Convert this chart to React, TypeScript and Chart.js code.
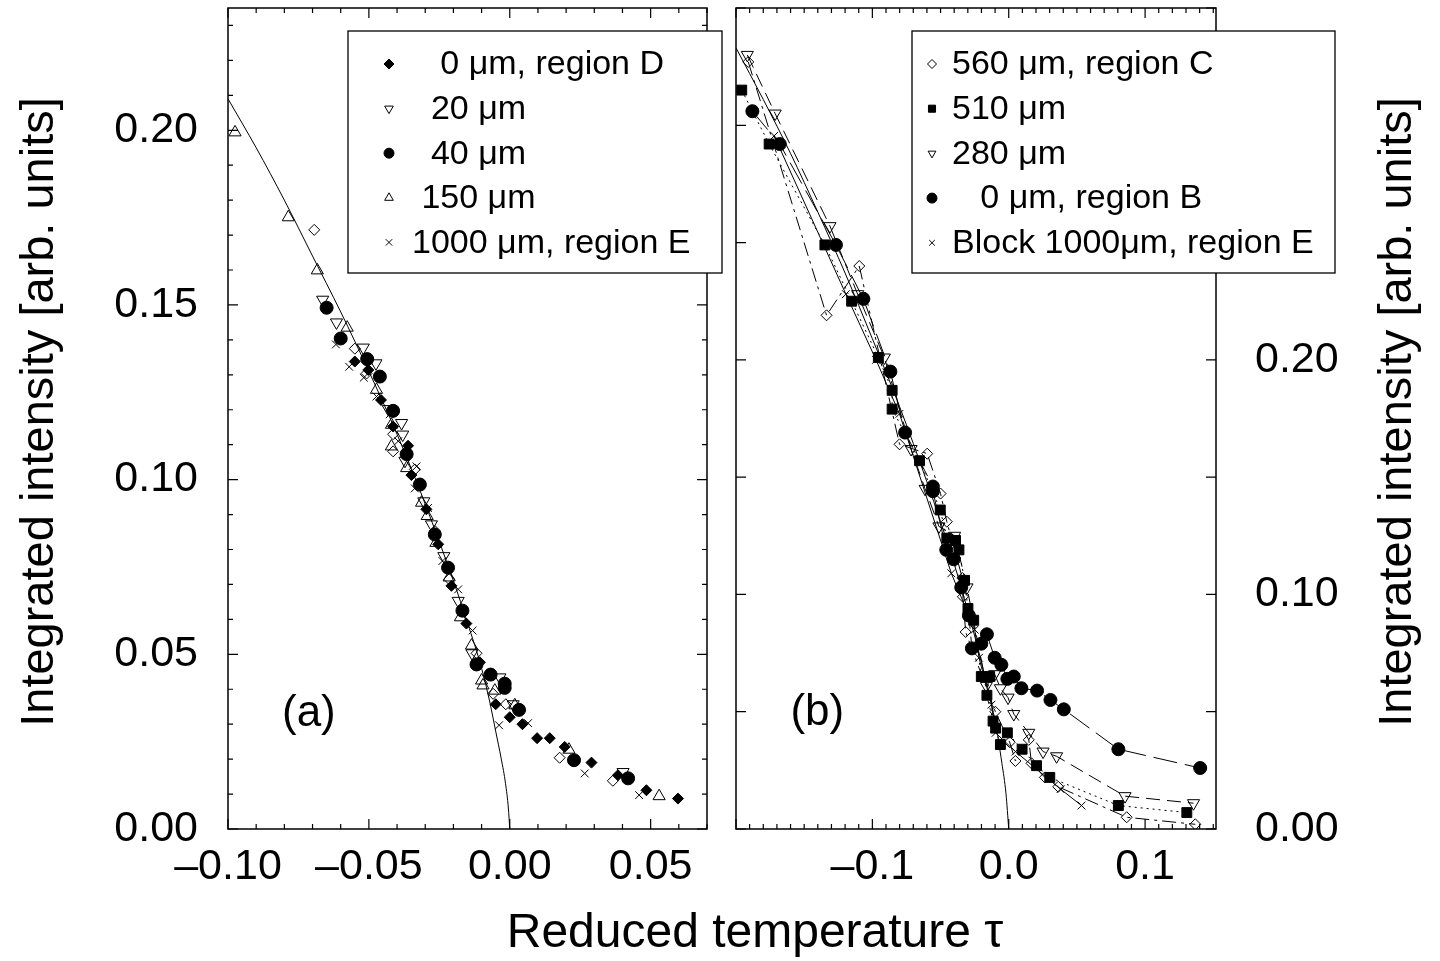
import React, { useEffect, useRef } from 'react';
import { Chart, registerables } from 'chart.js';
Chart.register(...registerables);

const FONT = "'Liberation Sans', Arial, Helvetica, sans-serif";
const Y_TITLE = 'Integrated intensity [arb. units]';
const X_TITLE = 'Reduced temperature \u03c4';

// ---------------- Panel (a) ----------------
const aD0Tau = [-0.055, -0.0502, -0.0457, -0.0414, -0.0361, -0.0349, -0.0296, -0.0254, -0.0207, -0.0154, -0.0106, -0.005, 0.0, 0.0045, 0.0097, 0.0142, 0.0195, 0.029, 0.0384, 0.0485, 0.0597];
const aD0Int = [0.1338, 0.1314, 0.1228, 0.1152, 0.1097, 0.1013, 0.0915, 0.0815, 0.0696, 0.0588, 0.0477, 0.0357, 0.032, 0.030, 0.026, 0.026, 0.0235, 0.019, 0.0154, 0.0111, 0.0087];

const a20Tau = [-0.0664, -0.0615, -0.052, -0.0475, -0.0431, -0.0384, -0.038, -0.0372, -0.0305, -0.0278, -0.0234, -0.0183, -0.0134, -0.0035, 0.0012, 0.0402];
const a20Int = [0.1515, 0.145, 0.1378, 0.1333, 0.1202, 0.1162, 0.1129, 0.1054, 0.0938, 0.0872, 0.0781, 0.0653, 0.0503, 0.0434, 0.0357, 0.0163];

const a40Tau = [-0.065, -0.060, -0.0506, -0.0461, -0.0414, -0.0366, -0.0319, -0.0266, -0.0219, -0.0168, -0.0118, -0.0068, -0.0018, -0.0018, 0.0033, 0.0228, 0.042];
const a40Int = [0.1492, 0.1404, 0.1345, 0.1295, 0.1197, 0.1073, 0.0986, 0.0843, 0.0748, 0.0625, 0.0471, 0.0442, 0.0416, 0.0404, 0.0341, 0.0197, 0.0145];

const a150Tau = [-0.0975, -0.0786, -0.0683, -0.0577, -0.0473, -0.042, -0.042, -0.0366, -0.0313, -0.0293, -0.0262, -0.0215, -0.0175, -0.0136, -0.010, -0.0095, -0.0053, 0.0018, 0.021, 0.053];
const a150Int = [0.1994, 0.1751, 0.1599, 0.1435, 0.1257, 0.1157, 0.1095, 0.1033, 0.0934, 0.0896, 0.0819, 0.072, 0.0606, 0.0525, 0.0425, 0.0411, 0.0396, 0.0354, 0.0227, 0.0094];

const a1000Tau = [-0.0617, -0.057, -0.0518, -0.0473, -0.0426, -0.0396, -0.0337, -0.0331, -0.029, -0.0239, -0.0183, -0.0132, -0.0038, 0.0065, 0.0266, 0.0459];
const a1000Int = [0.1387, 0.1323, 0.1292, 0.1238, 0.1187, 0.111, 0.0975, 0.1038, 0.0919, 0.0767, 0.0686, 0.0568, 0.0297, 0.0303, 0.0159, 0.0097];

const aOpenTau = [-0.0694, -0.055, -0.0508, -0.0414, -0.0414, -0.0337, -0.0266, -0.0215, -0.0118, -0.0059, -0.0014, 0.0177, 0.0366];
const aOpenInt = [0.1715, 0.1375, 0.1304, 0.113, 0.1081, 0.1029, 0.0853, 0.0715, 0.0503, 0.0387, 0.0357, 0.0204, 0.0138];

const fitTauA = [-0.100, -0.090, -0.080, -0.070, -0.060, -0.050, -0.040, -0.030, -0.020, -0.015, -0.010, -0.007, -0.005, -0.003, -0.0015, -0.0005, 0.0];
const fitIntA = [0.209, 0.195, 0.180, 0.164, 0.148, 0.131, 0.113, 0.093, 0.071, 0.059, 0.046, 0.036, 0.028, 0.020, 0.013, 0.006, 0.0];

const xTicksA = [-0.1, -0.05, 0, 0.05];
const yTicksA = [0, 0.05, 0.1, 0.15, 0.2];
const legendA = ['   0 \u03bcm, region D', '  20 \u03bcm', '  40 \u03bcm', ' 150 \u03bcm', '1000 \u03bcm, region E'];

// ---------------- Panel (b) ----------------
const b560Tau = [-0.191, -0.1336, -0.1096, -0.0801, -0.0598, -0.050, -0.0454, -0.034, -0.0336, -0.0316, -0.0098, 0.0007, 0.0049, 0.0147, 0.0167, 0.0265, 0.0363, 0.0865, 0.1368];
const b560Int = [0.327, 0.219, 0.240, 0.164, 0.160, 0.143, 0.131, 0.107, 0.099, 0.084, 0.050, 0.037, 0.029, 0.038, 0.028, 0.022, 0.018, 0.005, 0.002];

const b510Tau = [-0.1958, -0.1757, -0.1348, -0.1152, -0.0956, -0.0855, -0.0855, -0.0654, -0.0502, -0.0454, -0.039, -0.0365, -0.0324, -0.0299, -0.0257, -0.0201, -0.014, -0.016, -0.0115, -0.0096, -0.0061, -0.001, 0.0098, 0.0204, 0.0301, 0.0804, 0.1306];
const b510Int = [0.315, 0.292, 0.249, 0.225, 0.201, 0.187, 0.179, 0.157, 0.136, 0.124, 0.123, 0.119, 0.106, 0.094, 0.089, 0.065, 0.065, 0.057, 0.046, 0.043, 0.036, 0.041, 0.034, 0.027, 0.022, 0.010, 0.007];

const b280Tau = [-0.1917, -0.1713, -0.1311, -0.1108, -0.0912, -0.0716, -0.0613, -0.0512, -0.0397, -0.0306, -0.0164, -0.0103, -0.0061, -0.0005, 0.0037, 0.0147, 0.0252, 0.0351, 0.0853, 0.1355];
const b280Int = [0.330, 0.305, 0.257, 0.228, 0.201, 0.162, 0.145, 0.129, 0.125, 0.103, 0.061, 0.066, 0.060, 0.056, 0.049, 0.041, 0.033, 0.031, 0.014, 0.011];

const b0Tau = [-0.188, -0.1679, -0.1267, -0.1066, -0.0868, -0.076, -0.0556, -0.0556, -0.0458, -0.0404, -0.0348, -0.0292, -0.027, -0.0201, -0.016, -0.0103, -0.0054, -0.001, 0.0037, 0.0093, 0.0208, 0.0306, 0.0404, 0.0804, 0.1404];
const b0Int = [0.306, 0.292, 0.249, 0.226, 0.195, 0.169, 0.146, 0.144, 0.119, 0.115, 0.103, 0.091, 0.077, 0.079, 0.083, 0.073, 0.070, 0.064, 0.065, 0.060, 0.059, 0.055, 0.051, 0.034, 0.026];

const bBlockTau = [-0.172, -0.1194, -0.0973, -0.0801, -0.0421, -0.025, -0.0218, -0.0127, -0.0096, 0.005, 0.038, 0.0534];
const bBlockInt = [0.2955, 0.228, 0.200, 0.177, 0.109, 0.085, 0.073, 0.053, 0.041, 0.033, 0.017, 0.010];

const fitTauB = [-0.200, -0.180, -0.160, -0.140, -0.120, -0.100, -0.080, -0.060, -0.040, -0.030, -0.020, -0.010, -0.005, -0.002, 0.0];
const fitIntB = [0.333, 0.311, 0.288, 0.263, 0.237, 0.209, 0.180, 0.148, 0.113, 0.093, 0.071, 0.046, 0.028, 0.015, 0.0];

const xTicksB = [-0.1, 0, 0.1];
const yTicksB = [0, 0.1, 0.2];
const legendB = ['560 \u03bcm, region C', '510 \u03bcm', '280 \u03bcm', '   0 \u03bcm, region B', 'Block 1000\u03bcm, region E'];

// ---------------- helpers ----------------
const pts = (xs: number[], ys: number[]) => xs.map((x, i) => ({ x, y: ys[i] }));
const fmt = (d: number) => (v: any) => {
  const n = Number(v);
  const s = Math.abs(n).toFixed(d);
  return n < -1e-9 ? '\u2013' + s : s;
};

function drawMarker(ctx: CanvasRenderingContext2D, style: string, x: number, y: number, r: number, filled: boolean) {
  ctx.beginPath();
  if (style === 'circle') {
    ctx.arc(x, y, r, 0, Math.PI * 2);
  } else if (style === 'diamond') {
    ctx.moveTo(x - r, y); ctx.lineTo(x, y - r); ctx.lineTo(x + r, y); ctx.lineTo(x, y + r); ctx.closePath();
  } else if (style === 'square') {
    const s = r * Math.SQRT1_2;
    ctx.rect(x - s, y - s, 2 * s, 2 * s);
  } else if (style === 'triUp') {
    ctx.moveTo(x, y - r); ctx.lineTo(x + r * 0.866, y + r * 0.5); ctx.lineTo(x - r * 0.866, y + r * 0.5); ctx.closePath();
  } else if (style === 'triDown') {
    ctx.moveTo(x, y + r); ctx.lineTo(x + r * 0.866, y - r * 0.5); ctx.lineTo(x - r * 0.866, y - r * 0.5); ctx.closePath();
  } else if (style === 'cross') {
    const s = r * Math.SQRT1_2;
    ctx.moveTo(x - s, y - s); ctx.lineTo(x + s, y + s);
    ctx.moveTo(x + s, y - s); ctx.lineTo(x - s, y + s);
  }
  if (filled) ctx.fill();
  ctx.stroke();
}

type LegendRow = { style: string; r: number; filled: boolean };
type FrameOpts = {
  xk0: number; xk1: number; xStep: number; xMajor: number;
  yk0: number; yk1: number; yStep: number; yMajor: number;
  panelText: string; panelX: number; panelY: number;
  box: [number, number, number, number];
  markX: number; textX: number; row0: number; rowStep: number;
  labels: string[]; rows: LegendRow[];
  titleX: number; titleY: number;
};

function framePlugin(o: FrameOpts) {
  return {
    id: 'frame',
    afterDraw(chart: any) {
      const ctx: CanvasRenderingContext2D = chart.ctx;
      const a = chart.chartArea;
      const xs = chart.scales.x, ys = chart.scales.y;
      ctx.save();
      ctx.strokeStyle = '#000';
      ctx.fillStyle = '#000';
      ctx.lineWidth = 1.2;
      ctx.beginPath();
      for (let k = o.xk0; k <= o.xk1; k++) {
        const px = xs.getPixelForValue(k * o.xStep);
        const L = k % o.xMajor === 0 ? 10 : 5;
        ctx.moveTo(px, a.bottom); ctx.lineTo(px, a.bottom - L);
        ctx.moveTo(px, a.top); ctx.lineTo(px, a.top + L);
      }
      for (let k = o.yk0; k <= o.yk1; k++) {
        const py = ys.getPixelForValue(k * o.yStep);
        const L = k % o.yMajor === 0 ? 10 : 5;
        ctx.moveTo(a.left, py); ctx.lineTo(a.left + L, py);
        ctx.moveTo(a.right, py); ctx.lineTo(a.right - L, py);
      }
      ctx.stroke();
      ctx.lineWidth = 1.5;
      ctx.strokeRect(a.left, a.top, a.right - a.left, a.bottom - a.top);

      // panel label
      ctx.font = `44px ${FONT}`;
      ctx.textAlign = 'center';
      ctx.textBaseline = 'middle';
      ctx.fillText(o.panelText, xs.getPixelForValue(o.panelX), ys.getPixelForValue(o.panelY));

      // legend
      const [bx0, by0, bx1, by1] = o.box;
      ctx.fillStyle = '#fff';
      ctx.fillRect(bx0, by0, bx1 - bx0, by1 - by0);
      ctx.lineWidth = 1.3;
      ctx.strokeRect(bx0, by0, bx1 - bx0, by1 - by0);
      ctx.font = `34px ${FONT}`;
      ctx.textAlign = 'left';
      ctx.textBaseline = 'middle';
      o.labels.forEach((lab, i) => {
        const y = o.row0 + i * o.rowStep;
        const row = o.rows[i];
        ctx.fillStyle = '#000';
        ctx.lineWidth = 1;
        drawMarker(ctx, row.style, o.markX, y, row.r, row.filled);
        ctx.fillStyle = '#000';
        ctx.fillText(lab, o.textX, y + 1);
      });

      // y title
      ctx.save();
      ctx.translate(o.titleX, o.titleY);
      ctx.rotate(-Math.PI / 2);
      ctx.font = `47px ${FONT}`;
      ctx.textAlign = 'center';
      ctx.textBaseline = 'middle';
      ctx.fillStyle = '#000';
      ctx.fillText(Y_TITLE, 0, 0);
      ctx.restore();
      ctx.restore();
    },
  };
}

const markerDs = (label: string, xs: number[], ys: number[], style: string, r: number, filled: boolean, rot = 0) => ({
  label,
  data: pts(xs, ys),
  pointStyle: style,
  pointRotation: rot,
  pointRadius: r,
  pointBorderWidth: 1,
  pointBorderColor: '#000',
  pointBackgroundColor: filled ? '#000' : 'rgba(0,0,0,0)',
  borderColor: '#000',
  backgroundColor: filled ? '#000' : 'rgba(0,0,0,0)',
  showLine: false,
});

const lineDs = (label: string, xs: number[], ys: number[], style: string, r: number, filled: boolean, dash: number[], rot = 0) => ({
  ...markerDs(label, xs, ys, style, r, filled, rot),
  showLine: true,
  borderWidth: 1,
  borderDash: dash,
  tension: 0,
});

const fitDs = (xs: number[], ys: number[]) => ({
  label: 'fit',
  data: pts(xs, ys),
  showLine: true,
  borderColor: '#000',
  borderWidth: 1,
  pointRadius: 0,
  cubicInterpolationMode: 'monotone',
});

const tickFont = { family: FONT, size: 43 };

const fitX = (s: any) => { s.height = 132; s.paddingLeft = 0; s.paddingRight = 0; s.paddingTop = 0; s.paddingBottom = 0; };
const fitY = (w: number) => (s: any) => { s.width = w; s.paddingLeft = 0; s.paddingRight = 0; s.paddingTop = 0; s.paddingBottom = 0; };

function buildA(canvas: HTMLCanvasElement) {
  return new Chart(canvas, {
    type: 'scatter',
    data: {
      datasets: [
        fitDs(fitTauA, fitIntA),
        markerDs('open diamond', aOpenTau, aOpenInt, 'rectRot', 5.5, false),
        markerDs(legendA[4], a1000Tau, a1000Int, 'crossRot', 5.5, false),
        markerDs(legendA[3], a150Tau, a150Int, 'triangle', 7, false),
        markerDs(legendA[2], a40Tau, a40Int, 'circle', 6.5, true),
        markerDs(legendA[1], a20Tau, a20Int, 'triangle', 7, false, 180),
        markerDs(legendA[0], aD0Tau, aD0Int, 'rectRot', 5.5, true),
      ] as any,
    },
    options: {
      responsive: false,
      animation: false,
      devicePixelRatio: 1,
      events: [],
      layout: { padding: { left: 0, top: 5, right: 21, bottom: 0 } },
      plugins: { legend: { display: false }, tooltip: { enabled: false } },
      scales: {
        x: {
          type: 'linear', min: -0.1, max: 0.07,
          grid: { display: false, drawTicks: false },
          border: { display: false },
          ticks: { font: tickFont, color: '#000', padding: 12, maxRotation: 0, autoSkip: false, includeBounds: false, callback: fmt(2) },
          afterBuildTicks: (s: any) => { s.ticks = xTicksA.map((v) => ({ value: v })); },
          afterFit: fitX,
        },
        y: {
          type: 'linear', min: 0, max: 0.235,
          grid: { display: false, drawTicks: false },
          border: { display: false },
          ticks: { font: tickFont, color: '#000', padding: 30, autoSkip: false, includeBounds: false, callback: fmt(2) },
          afterBuildTicks: (s: any) => { s.ticks = yTicksA.map((v) => ({ value: v })); },
          afterFit: fitY(228),
        },
      },
    } as any,
    plugins: [
      framePlugin({
        xk0: -10, xk1: 7, xStep: 0.01, xMajor: 5,
        yk0: 0, yk1: 23, yStep: 0.01, yMajor: 5,
        panelText: '(a)', panelX: -0.0713, panelY: 0.0331,
        box: [348, 31, 722, 273], markX: 389, textX: 412, row0: 64, rowStep: 44.6,
        labels: legendA,
        rows: [
          { style: 'diamond', r: 5, filled: true },
          { style: 'triDown', r: 5, filled: false },
          { style: 'circle', r: 5, filled: true },
          { style: 'triUp', r: 5, filled: false },
          { style: 'cross', r: 4.5, filled: false },
        ],
        titleX: 40, titleY: 412,
      }),
    ] as any,
  });
}

function buildB(canvas: HTMLCanvasElement) {
  return new Chart(canvas, {
    type: 'scatter',
    data: {
      datasets: [
        fitDs(fitTauB, fitIntB),
        lineDs(legendB[4], bBlockTau, bBlockInt, 'crossRot', 5.5, false, []),
        lineDs(legendB[3], b0Tau, b0Int, 'circle', 6.5, true, [24, 8]),
        lineDs(legendB[2], b280Tau, b280Int, 'triangle', 7, false, [14, 7], 180),
        lineDs(legendB[1], b510Tau, b510Int, 'rect', 7, true, [2, 4]),
        lineDs(legendB[0], b560Tau, b560Int, 'rectRot', 5.5, false, [14, 5, 3, 5]),
      ] as any,
    },
    options: {
      responsive: false,
      animation: false,
      devicePixelRatio: 1,
      events: [],
      layout: { padding: { left: 8, top: 5, right: 0, bottom: 0 } },
      plugins: { legend: { display: false }, tooltip: { enabled: false } },
      scales: {
        x: {
          type: 'linear', min: -0.2, max: 0.152,
          grid: { display: false, drawTicks: false },
          border: { display: false },
          ticks: { font: tickFont, color: '#000', padding: 12, maxRotation: 0, autoSkip: false, includeBounds: false, callback: fmt(1) },
          afterBuildTicks: (s: any) => { s.ticks = xTicksB.map((v) => ({ value: v })); },
          afterFit: fitX,
        },
        y: {
          type: 'linear', position: 'right', min: 0, max: 0.35,
          grid: { display: false, drawTicks: false },
          border: { display: false },
          ticks: { font: tickFont, color: '#000', padding: 39, autoSkip: false, includeBounds: false, callback: fmt(2) },
          afterBuildTicks: (s: any) => { s.ticks = yTicksB.map((v) => ({ value: v })); },
          afterFit: fitY(224),
        },
      },
    } as any,
    plugins: [
      framePlugin({
        xk0: -20, xk1: 15, xStep: 0.01, xMajor: 10,
        yk0: 0, yk1: 7, yStep: 0.05, yMajor: 1,
        panelText: '(b)', panelX: -0.1404, panelY: 0.0493,
        box: [184, 31, 607, 273], markX: 204, textX: 224, row0: 64, rowStep: 44.7,
        labels: legendB,
        rows: [
          { style: 'diamond', r: 4.5, filled: false },
          { style: 'square', r: 5, filled: true },
          { style: 'triDown', r: 4.5, filled: false },
          { style: 'circle', r: 5, filled: true },
          { style: 'cross', r: 4, filled: false },
        ],
        titleX: 670, titleY: 412,
      }),
    ] as any,
  });
}

export default function App() {
  const refA = useRef<HTMLCanvasElement>(null);
  const refB = useRef<HTMLCanvasElement>(null);
  useEffect(() => {
    const ca = buildA(refA.current as HTMLCanvasElement);
    const cb = buildB(refB.current as HTMLCanvasElement);
    return () => { ca.destroy(); cb.destroy(); };
  }, []);
  return (
    <div style={{ position: 'absolute', left: 0, top: 0, width: 1440, height: 961, background: '#fff', overflow: 'hidden' }}>
      <canvas ref={refA} width={728} height={961} style={{ position: 'absolute', left: 0, top: 0 }} />
      <canvas ref={refB} width={712} height={961} style={{ position: 'absolute', left: 728, top: 0 }} />
      <div
        style={{
          position: 'absolute', left: 755, top: 907, transform: 'translateX(-50%)',
          font: `48px ${FONT}`, lineHeight: '48px', whiteSpace: 'nowrap', color: '#000',
        }}
      >
        {X_TITLE}
      </div>
    </div>
  );
}
